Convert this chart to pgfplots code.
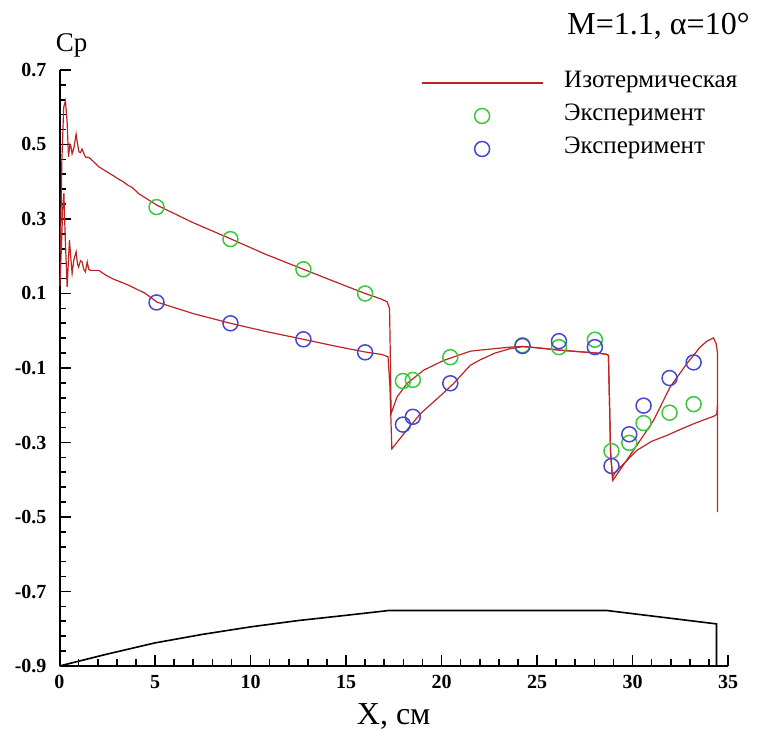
\documentclass[border=0pt]{standalone}
\usepackage{fontspec}
\setmainfont{Liberation Serif}
\usepackage{pgfplots}
\pgfplotsset{compat=1.18}
\definecolor{cred}{RGB}{190,35,35}
\definecolor{cgreen}{RGB}{60,200,60}
\definecolor{cblue}{RGB}{70,70,210}
\begin{document}
\begin{tikzpicture}
\begin{axis}[
  width=334.25pt, height=298pt, scale only axis,
  xmin=0, xmax=35, ymin=-0.9, ymax=0.7,
  axis lines=left, axis line style={-, line width=1pt},
  xtick={0,5,10,15,20,25,30,35},
  ytick={-0.9,-0.7,-0.5,-0.3,-0.1,0.1,0.3,0.5,0.7},
  minor x tick num=4, minor y tick num=4,
  tick align=inside, major tick length=5.5pt, minor tick length=3.3pt,
  tick style={line width=0.8pt, black},
  /pgf/number format/assume math mode=true,
  ticklabel style={font=\fontsize{10}{11}\selectfont\bfseries},
  yticklabel style={/pgf/number format/fixed, /pgf/number format/precision=1, /pgf/number format/fixed zerofill, xshift=-3pt},
  xticklabel style={yshift=-1pt},
  clip=false,
  legend cell align=left,
  legend image code/.code={\draw[mark repeat=2,mark phase=2,#1] plot coordinates {(0pt,0pt) (30.25pt,0pt) (60.5pt,0pt)};},
  legend style={at={(rel axis cs:0.5408,1.0)}, anchor=north west, draw=none, fill=none,
    inner sep=0pt, outer sep=0pt, font=\fontsize{12.5}{14}\selectfont,
    row sep=3.5pt, column sep=10.5pt,
    nodes={inner sep=0pt, text height=9pt, text depth=4pt}},
]
% red curve (upper side)
\addplot[cred, line width=0.6pt] coordinates {
(0.05,0.21) (0.12,0.45) (0.22,0.6) (0.31,0.617) (0.4,0.56) (0.47,0.467) (0.55,0.5) (0.6,0.495) (0.66,0.475) (0.75,0.49) (0.87,0.528) (0.95,0.5) (1.02,0.48) (1.1,0.478) (1.18,0.488) (1.26,0.478) (1.32,0.47) (1.39,0.465) (1.5,0.466) (1.62,0.462) (2.06,0.44) (2.76,0.418) (3.19,0.404) (3.28,0.402) (3.6,0.39) (3.8,0.385) (4.15,0.368) (5.1,0.337) (7,0.29) (8.95,0.247) (10.8,0.205) (12.77,0.165) (14.5,0.13) (16,0.1) (16.8,0.086) (17.15,0.078) (17.28,0.06) (17.33,-0.1) (17.36,-0.223) (17.67,-0.178) (18.19,-0.142) (19.06,-0.106) (20.1,-0.08) (21.5,-0.055) (22.03,-0.052) (23.6,-0.044) (24.24,-0.042) (24.65,-0.044) (26.4,-0.053) (28.14,-0.06) (28.63,-0.063) (28.74,-0.066) (28.8,-0.2) (28.85,-0.32) (28.95,-0.395) (29.1,-0.38) (29.62,-0.353) (30.23,-0.321) (31.0,-0.297) (31.8,-0.281) (32.5,-0.265) (33.19,-0.25) (33.8,-0.238) (34.24,-0.23) (34.41,-0.225) (34.45,-0.2)
};
\addlegendentry{Изотермическая}
% red curve (lower side)
\addplot[cred, line width=0.6pt, forget plot] coordinates {
(0.02,0.12) (0.1,0.225) (0.17,0.33) (0.23,0.369) (0.3,0.25) (0.4,0.117) (0.52,0.243) (0.6,0.19) (0.66,0.154) (0.75,0.19) (0.87,0.212) (0.94,0.18) (1.0,0.171) (1.1,0.188) (1.18,0.185) (1.27,0.165) (1.36,0.158) (1.45,0.185) (1.53,0.165) (1.62,0.162) (2.06,0.162) (2.4,0.15) (2.76,0.14) (3.63,0.122) (4.5,0.1) (5.1,0.077) (7,0.046) (8.95,0.02) (10.8,-0.002) (12.77,-0.023) (14.5,-0.042) (16,-0.057) (16.9,-0.064) (17.2,-0.07) (17.3,-0.15) (17.4,-0.317) (18.02,-0.277) (18.89,-0.223) (19.76,-0.183) (20.63,-0.142) (21.5,-0.093) (22.03,-0.078) (22.8,-0.06) (23.6,-0.048) (24.24,-0.043) (24.65,-0.044) (26.4,-0.053) (28.14,-0.06) (28.63,-0.063) (28.74,-0.066) (28.8,-0.2) (28.85,-0.33) (28.97,-0.402) (30.05,-0.321) (31.1,-0.241) (31.97,-0.151) (32.85,-0.088) (33.54,-0.044) (33.9,-0.028) (34.24,-0.019) (34.38,-0.035) (34.45,-0.06) (34.45,-0.487)
};
% experiment green
\addplot[only marks, mark=o, mark size=3.75pt, cgreen, line width=0.75pt] coordinates {
(5.08,0.332) (8.95,0.246) (12.77,0.165) (16.0,0.10) (17.98,-0.135) (18.5,-0.132) (20.46,-0.071) (24.24,-0.039) (26.15,-0.044) (28.03,-0.024) (28.9,-0.323) (29.83,-0.301) (30.58,-0.248) (31.94,-0.220) (33.2,-0.197)
};
\addlegendentry{Эксперимент}
% experiment blue
\addplot[only marks, mark=o, mark size=3.75pt, cblue, line width=0.75pt] coordinates {
(5.08,0.076) (8.95,0.020) (12.77,-0.023) (16.0,-0.058) (17.98,-0.252) (18.5,-0.231) (20.46,-0.141) (24.24,-0.041) (26.15,-0.028) (28.03,-0.044) (28.9,-0.363) (29.83,-0.278) (30.58,-0.201) (31.94,-0.127) (33.2,-0.085)
};
\addlegendentry{Эксперимент}
% body contour
\addplot[black, line width=0.8pt, forget plot] coordinates {
(0,-0.9) (2.5,-0.868) (5,-0.838) (7.5,-0.815) (10,-0.795) (12.5,-0.778) (15,-0.764) (17.25,-0.751) (28.65,-0.751) (34.4,-0.787) (34.4,-0.9)
};
\coordinate (bl) at (rel axis cs:0,0);
\coordinate (tr) at (rel axis cs:1,1);
\node[anchor=base, font=\fontsize{13.5}{15}\selectfont] at ([shift={(6.1pt,9.2pt)}]rel axis cs:0,1) {Cp};
\node[anchor=base east, font=\fontsize{16}{18}\selectfont, inner sep=0pt] at ([shift={(11pt,17.5pt)}]rel axis cs:1,1) {M=1.1, α=10°};
\node[anchor=base, font=\fontsize{16}{18}\selectfont] at ([shift={(0pt,-29.5pt)}]rel axis cs:0.5,0) {X, см};
\end{axis}
\pgfresetboundingbox
\path ([shift={(-29.75pt,-32.5pt)}]bl) rectangle ([shift={(15.5pt,35pt)}]tr);
\end{tikzpicture}
\end{document}
